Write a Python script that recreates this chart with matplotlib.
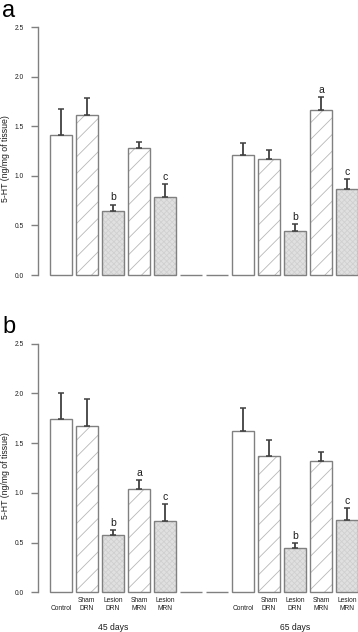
import numpy as np
import matplotlib
matplotlib.use('Agg')
import matplotlib.pyplot as plt

plt.rcParams['font.family'] = ['Liberation Sans', 'DejaVu Sans']
plt.rcParams['hatch.linewidth'] = 0.6

# data: means and SEM, 5 groups per age
groups = ['\nControl', 'Sham\nDRN', 'Lesion\nDRN', 'Sham\nMRN', 'Lesion\nMRN']
ages = ['45 days', '65 days']

mean_a_45 = [1.41, 1.61, 0.65, 1.28, 0.79]
sem_a_45 = [0.26, 0.17, 0.06, 0.06, 0.13]
mean_a_65 = [1.21, 1.17, 0.44, 1.66, 0.87]
sem_a_65 = [0.12, 0.09, 0.07, 0.13, 0.10]
sig_a_45 = ['', '', 'b', '', 'c']
sig_a_65 = ['', '', 'b', 'a', 'c']

mean_b_45 = [1.74, 1.67, 0.58, 1.04, 0.72]
sem_b_45 = [0.26, 0.27, 0.05, 0.09, 0.165]
mean_b_65 = [1.62, 1.37, 0.45, 1.32, 0.73]
sem_b_65 = [0.23, 0.16, 0.05, 0.09, 0.12]
sig_b_45 = ['', '', 'b', 'a', 'c']
sig_b_65 = ['', '', 'b', '', 'c']

yticks = [0.0, 0.5, 1.0, 1.5, 2.0, 2.5]

# bar styles: control, sham (hatched), lesion (grey)
face = ['white', 'white', '#e0e0e0', 'white', '#e0e0e0']
hatch = [None, '//', 'xxxxxx', '//', 'xxxxxx']
hcol = ['white', '#b8b8b8', '#d0d0d0', '#b8b8b8', '#d0d0d0']
edge = '#808080'
txtcol = '#1e1e1e'

W, H = 358, 632
fig = plt.figure(figsize=(W / 100, H / 100), dpi=100)


def panel(ax, m45, s45, m65, s65, sig45, sig65, ticklabels):
    # R style barplot: 5 bars, 2 empty bars, 5 bars, space 0.2
    means = list(m45) + [0, 0] + list(m65)
    sems = list(s45) + [0, 0] + list(s65)
    sigs = list(sig45) + ['', ''] + list(sig65)
    x = 0.7 + 1.2 * np.arange(len(means))
    fc = face + ['white', 'white'] + face
    hc = hatch + [None, None] + hatch
    hl = hcol + ['white', 'white'] + hcol
    for i in range(len(means)):
        ax.bar(x[i], means[i], width=1.0, color=fc[i], hatch=hc[i],
               edgecolor=hl[i], linewidth=0, zorder=2, clip_on=False)
        ax.bar(x[i], means[i], width=1.0, fill=False, edgecolor=edge,
               linewidth=1.0, zorder=3, clip_on=False)
    real = [i for i in range(len(means)) if means[i] > 0]
    ax.errorbar(x[real], np.array(means)[real],
                yerr=[np.zeros(len(real)), np.array(sems)[real]],
                fmt='none', ecolor='#404040', elinewidth=1.3, capsize=2,
                capthick=1.1, zorder=4, clip_on=False)
    for i in real:
        if sigs[i]:
            ax.annotate(sigs[i], (x[i], means[i] + sems[i]), xytext=(0, 1.5),
                        textcoords='offset points', ha='center', va='bottom',
                        fontsize=7.5, color=txtcol)
    ax.set_xlim(-0.353, 14.4)
    ax.set_ylim(0, 2.5)
    ax.set_yticks(yticks)
    ax.set_yticklabels(['%.1f' % v for v in yticks], fontsize=4.8, color=txtcol)
    for s in ['top', 'right', 'bottom']:
        ax.spines[s].set_visible(False)
    ax.spines['left'].set_color(edge)
    ax.spines['left'].set_linewidth(1.0)
    ax.tick_params(axis='y', length=5, width=1.0, color=edge, pad=5)
    ax.set_ylabel('5-HT (ng/mg of tissue)', fontsize=6.3, color=txtcol)
    ax.yaxis.set_label_coords(-(38 - 10.5) / 320, 0.47)
    ax.patch.set_visible(False)
    if ticklabels:
        ax.set_xticks(x)
        ax.set_xticklabels(groups + ['', ''] + groups, fontsize=4.8,
                           color=txtcol, linespacing=1.2)
        ax.tick_params(axis='x', length=0, pad=3.5)
        ax.text(x[2], -0.348, ages[0], ha='center', va='center',
                fontsize=6.2, color=txtcol)
        ax.text(x[9], -0.348, ages[1], ha='center', va='center',
                fontsize=6.2, color=txtcol)
    else:
        ax.set_xticks([])
    return ax


ax_a = fig.add_axes([38 / W, 357 / H, 320 / W, 248 / H])
panel(ax_a, mean_a_45, sem_a_45, mean_a_65, sem_a_65, sig_a_45, sig_a_65,
      False)
ax_b = fig.add_axes([38 / W, 39.6 / H, 320 / W, 248.7 / H])
panel(ax_b, mean_b_45, sem_b_45, mean_b_65, sem_b_65, sig_b_45, sig_b_65,
      True)

fig.text(2 / W, 1 - 17 / H, 'a', fontsize=17, color='black', va='baseline')
fig.text(2 / W, 1 - 333 / H, 'b', fontsize=17, color='black', va='baseline')

fig.savefig('out.png', dpi=100)
